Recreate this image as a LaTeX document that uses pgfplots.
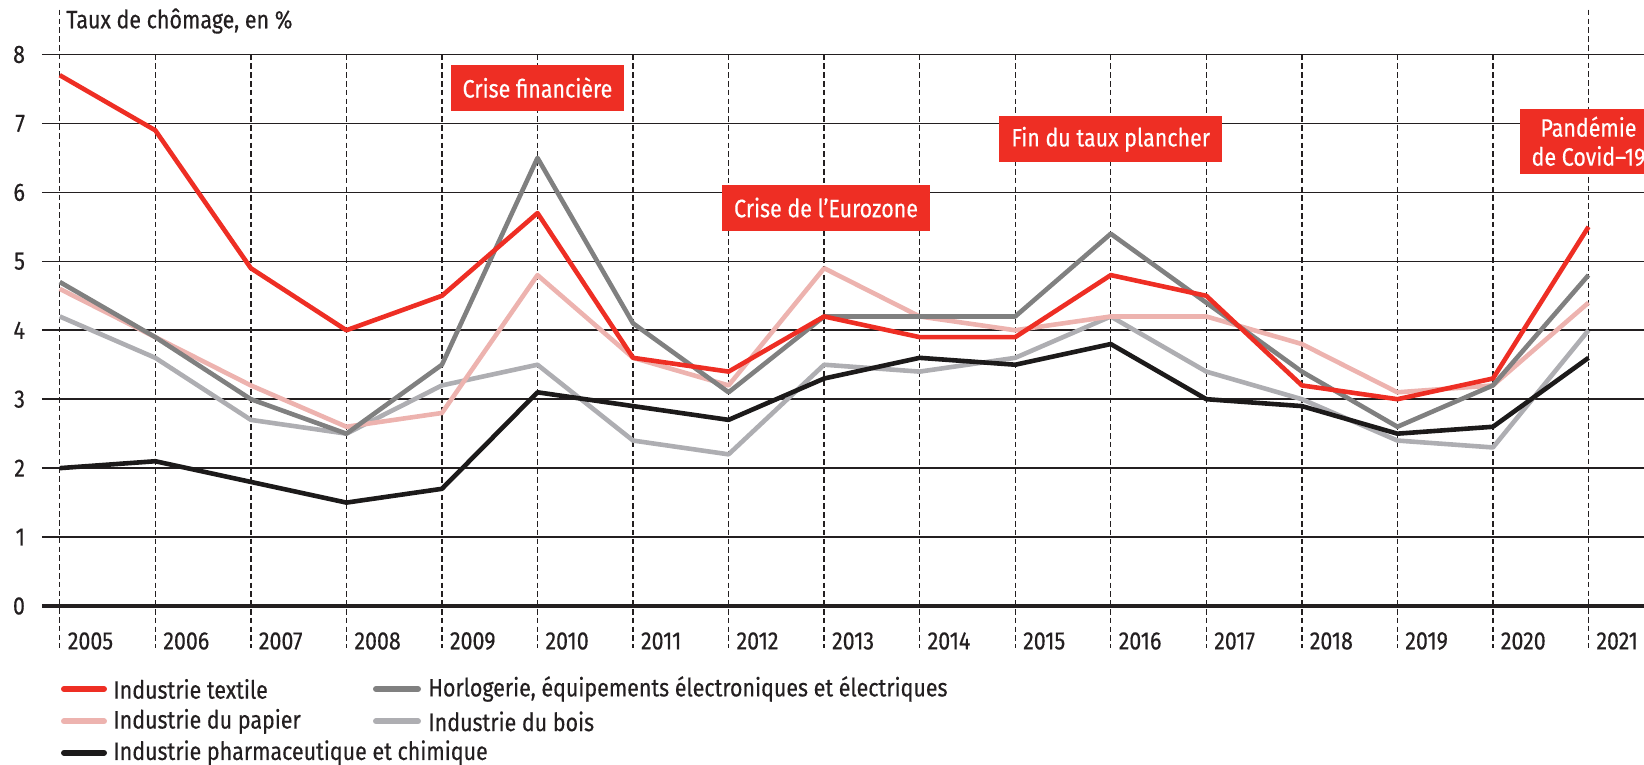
\documentclass[border=0pt]{standalone}
\usepackage{fontspec}
\setmainfont{Fira Sans}[FakeStretch=0.85, FakeBold=0.4]
\usepackage{pgfplots}
\usepackage{pgfplotstable}
\pgfplotsset{compat=1.18}

\definecolor{cred}{HTML}{EE2E24}
\definecolor{cdgray}{HTML}{808080}
\definecolor{cpink}{HTML}{EDB3AF}
\definecolor{clgray}{HTML}{AEAEB2}
\definecolor{cblack}{HTML}{1C1A1A}
\definecolor{ctext}{HTML}{231F20}

\newcommand\lbl{\fontsize{12.6}{14.5}\selectfont}

\pgfplotstableread{
year textile horlo papier bois pharma
2005 7.7 4.7 4.6 4.2 2.0
2006 6.9 3.9 3.9 3.6 2.1
2007 4.9 3.0 3.2 2.7 1.8
2008 4.0 2.5 2.6 2.5 1.5
2009 4.5 3.5 2.8 3.2 1.7
2010 5.7 6.5 4.8 3.5 3.1
2011 3.6 4.1 3.6 2.4 2.9
2012 3.4 3.1 3.2 2.2 2.7
2013 4.2 4.2 4.9 3.5 3.3
2014 3.9 4.2 4.2 3.4 3.6
2015 3.9 4.2 4.0 3.6 3.5
2016 4.8 5.4 4.2 4.2 3.8
2017 4.5 4.4 4.2 3.4 3.0
2018 3.2 3.4 3.8 3.0 2.9
2019 3.0 2.6 3.1 2.4 2.5
2020 3.3 3.2 3.2 2.3 2.6
2021 5.5 4.8 4.4 4.0 3.6
}\datatable

\begin{document}
\begin{tikzpicture}[
  vdash/.style={ctext, line width=0.65pt, dash pattern=on 2.8pt off 1.6pt},
  ser/.style={line width=2.3pt, line join=round},
  box/.style={fill=cred, text=white, font=\lbl, inner xsep=6pt, minimum height=23pt},
  leg/.style={line width=3pt, line cap=round}
]
\begin{axis}[
  at={(21pt,-303pt)}, anchor=south west,
  scale only axis, width=801pt, height=275.75pt,
  xmin=2004.814, xmax=2021.581, ymin=0, ymax=8,
  xtick={2005,...,2021}, ytick={0,...,8},
  /pgf/number format/assume math mode=true,
  xticklabel style={anchor=west, xshift=0.5pt, yshift=-17.5pt, /pgf/number format/1000 sep=},
  yticklabel style={xshift=-5pt},
  tick label style={font=\lbl, text=ctext},
  ymajorgrids, grid style={line width=0.8pt, ctext},
  axis line style={draw=none}, major tick length=0pt,
  clip=false,
]
\pgfplotsinvokeforeach{2006,...,2020}{\draw[vdash] (axis cs:#1,8) -- (axis cs:#1,-0.61);}
\draw[vdash] (axis cs:2005,8.65) -- (axis cs:2005,-0.61);
\draw[vdash] (axis cs:2021,8.65) -- (axis cs:2021,-0.61);
\draw[ctext, line width=1.6pt] (axis cs:2004.814,0) -- (axis cs:2021.581,0);

\addplot[ser, clgray] table[x=year, y=bois] {\datatable};
\addplot[ser, cpink] table[x=year, y=papier] {\datatable};
\addplot[ser, cdgray] table[x=year, y=horlo] {\datatable};
\addplot[ser, cred] table[x=year, y=textile] {\datatable};
\addplot[ser, cblack] table[x=year, y=pharma] {\datatable};

\node[box] at (axis cs:2010,7.52) {Crise financière};
\node[box] at (axis cs:2013.02,5.78) {Crise de l’Eurozone};
\node[box] at (axis cs:2016,6.77) {Fin du taux plancher};
\node[box, align=center, inner ysep=4pt] at (axis cs:2021,6.74) {Pandémie\\de Covid–19};
\end{axis}

\node[anchor=west, inner sep=0pt, font=\lbl, text=ctext] at (33pt,-10.5pt) {Taux de chômage, en \%};

\draw[leg, cred] (32pt,-344.5pt) -- (52pt,-344.5pt);
\node[anchor=west, inner sep=0pt, font=\lbl, text=ctext] at (56.5pt,-344.5pt) {Industrie textile};
\draw[leg, cpink] (32pt,-360.7pt) -- (52pt,-360.7pt);
\node[anchor=west, inner sep=0pt, font=\lbl, text=ctext] at (56.5pt,-360.7pt) {Industrie du papier};
\draw[leg, cblack] (32pt,-376.4pt) -- (52pt,-376.4pt);
\node[anchor=west, inner sep=0pt, font=\lbl, text=ctext] at (56.5pt,-376.4pt) {Industrie pharmaceutique et chimique};
\draw[leg, cdgray] (188pt,-344.5pt) -- (209pt,-344.5pt);
\node[anchor=west, inner sep=0pt, font=\lbl, text=ctext] at (214pt,-344.5pt) {Horlogerie, équipements électroniques et électriques};
\draw[leg, clgray] (188pt,-360.7pt) -- (209pt,-360.7pt);
\node[anchor=west, inner sep=0pt, font=\lbl, text=ctext] at (214pt,-360.7pt) {Industrie du bois};

\pgfresetboundingbox
\path[use as bounding box] (0,0) rectangle (822pt,-382.5pt);
\end{tikzpicture}
\end{document}
